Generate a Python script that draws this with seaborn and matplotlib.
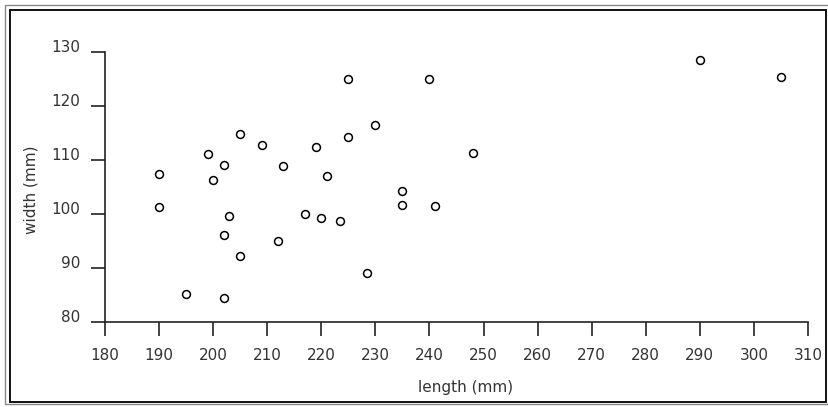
"""
Length vs width scatter, recreated with seaborn
"""
import seaborn as sns
import pandas as pd
import matplotlib.pyplot as plt
from matplotlib.patches import Rectangle

# values
length_mm = [225, 230, 205, 225, 209, 219, 199, 202, 213, 190,
             221, 200, 235, 235, 190, 203, 202, 205, 195, 202,
             217, 220, 223.5, 212, 228.5, 290, 305, 240, 248, 241]
width_mm = [125.1, 116.6, 114.9, 114.3, 112.8, 112.4, 111.2, 109.1, 108.9, 107.4,
            107.1, 106.4, 104.3, 101.7, 101.3, 99.6, 96.2, 92.2, 85.2, 84.4,
            100.0, 99.3, 98.8, 95.1, 89.1, 128.6, 125.5, 125.1, 111.3, 101.5]
x_ticks = list(range(180, 311, 10))
y_ticks = list(range(80, 131, 10))

df = pd.DataFrame({"length (mm)": length_mm, "width (mm)": width_mm})

sns.set_style("white")
plt.rcParams['font.family'] = ['DejaVu Sans']

fig = plt.figure(figsize=(8.29, 4.07), dpi=100)
ax = fig.add_axes([105 / 829, 1 - 322 / 407, 703 / 829, (322 - 52.3) / 407])

sns.scatterplot(
    data=df,
    x="length (mm)",
    y="width (mm)",
    marker="o",
    s=32,
    color="white",
    edgecolor="black",
    linewidth=1.1,
    clip_on=False,
    ax=ax,
)

ax.set_xlim(180, 310)
ax.set_ylim(80, 130)
ax.set_xticks(x_ticks)
ax.set_yticks(y_ticks)
for side in ["top", "right"]:
    ax.spines[side].set_visible(False)
for side in ["left", "bottom"]:
    ax.spines[side].set_color("#222222")
    ax.spines[side].set_linewidth(1.2)

ax.tick_params(axis="x", direction="out", length=10, width=1.2, pad=9,
               labelsize=11, colors="#222222", labelcolor="#333333")
ax.tick_params(axis="y", direction="out", length=10, width=1.2, pad=8,
               labelsize=11, colors="#222222", labelcolor="#333333")
ax.tick_params(left=True, bottom=True)
for t in ax.get_yticklabels():
    t.set_va("baseline")

ax.set_xlabel("length (mm)", fontsize=11, color="#333333")
ax.set_ylabel("width (mm)", fontsize=11, color="#333333")
ax.xaxis.set_label_coords((466 - 105) / 703, -0.215)
ax.yaxis.set_label_coords(-0.095, 0.49)

# double border around the whole picture
fig.add_artist(Rectangle((5 / 829, 3 / 407), 830 / 829, 399 / 407,
                         transform=fig.transFigure, fill=False,
                         edgecolor="#888888", linewidth=1.0))
fig.add_artist(Rectangle((10 / 829, 5 / 407), 816 / 829, 392 / 407,
                         transform=fig.transFigure, fill=False,
                         edgecolor="#111111", linewidth=1.4))

plt.savefig("out.png", dpi=100)
plt.close()
